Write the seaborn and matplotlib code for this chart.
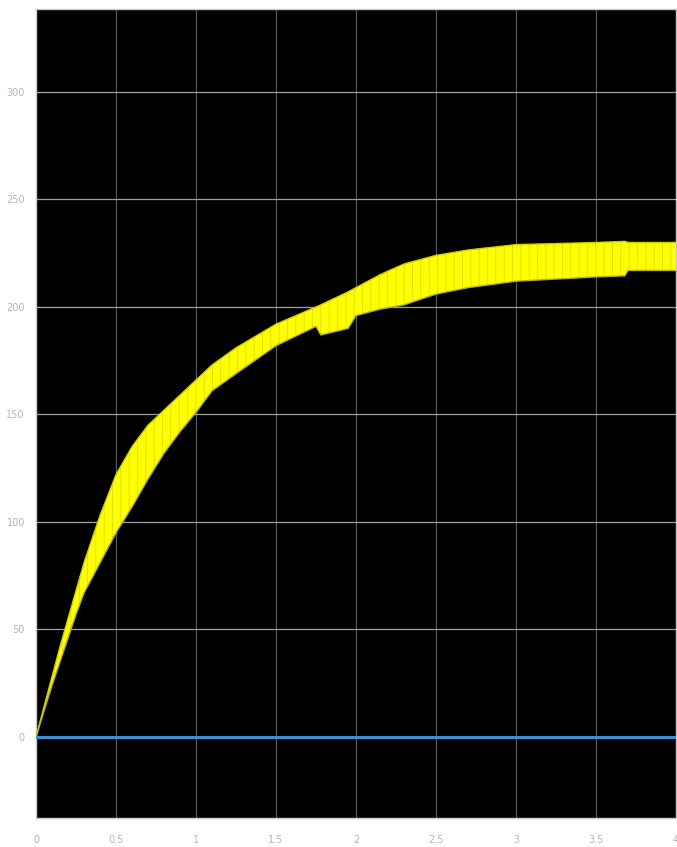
import matplotlib
matplotlib.use("Agg")
import matplotlib.pyplot as plt
import numpy as np
import pandas as pd
import seaborn as sns

# Time samples (s) and the upper / lower envelope of the oscillating signal
time_s = [0, 0.05, 0.1, 0.15, 0.2, 0.25, 0.3, 0.4, 0.5, 0.6, 0.7, 0.8, 0.9,
          1.0, 1.1, 1.25, 1.5, 1.75, 1.78, 1.95, 2.0, 2.15, 2.3, 2.5, 2.7,
          3.0, 3.25, 3.5, 3.68, 3.7, 4.0]
upper = [0, 14, 28, 42, 55, 68, 81, 103, 122, 135, 145, 152, 159,
         166, 173, 181, 192, 200, 201, 207, 209, 215, 220, 224, 226.5,
         229, 229.5, 230, 230.5, 230, 230]
lower = [0, 12, 24, 35, 46, 57, 67, 81, 95, 107, 120, 132, 142,
         151, 161, 169, 182, 191, 187, 190, 196, 199, 201, 206, 209,
         212, 213, 214, 214.5, 217, 217]

# Second trace, flat at zero over the whole run
ref_time = [0, 4]
ref_value = [0, 0]

x_ticks = [0, 0.5, 1, 1.5, 2, 2.5, 3, 3.5, 4]
x_labels = ["0", "0.5", "1", "1.5", "2", "2.5", "3", "3.5", "4"]
y_ticks = [0, 50, 100, 150, 200, 250, 300]
y_labels = ["0", "50", "100", "150", "200", "250", "300"]

df = pd.DataFrame({"t": time_s, "upper": upper, "lower": lower})
ref = pd.DataFrame({"t": ref_time, "v": ref_value})

sns.set_theme(style="dark")
plt.rcParams["hatch.linewidth"] = 0.5

fig = plt.figure(figsize=(6.77, 8.47), dpi=100, facecolor="white")
ax = fig.add_axes([36 / 677, 29 / 847, 640 / 677, 809 / 847])
ax.set_facecolor("black")

# grid
for xv in x_ticks:
    ax.axvline(xv, color="#5c5c5c", lw=0.8, zorder=1)
for yv in y_ticks:
    ax.axhline(yv, color="#a0a0a0", lw=0.9, zorder=1)

# oscillating band
ax.fill_between(df["t"], df["lower"], df["upper"], facecolor="#ffff00",
                edgecolor="#d6d600", hatch="||", linewidth=0, zorder=2)
sns.lineplot(data=df, x="t", y="upper", ax=ax, color="#d0d000", lw=1.0,
             zorder=3)
sns.lineplot(data=df, x="t", y="lower", ax=ax, color="#b8b800", lw=1.0,
             zorder=3)

# zero trace
sns.lineplot(data=ref, x="t", y="v", ax=ax, color="#3d8fd6", lw=2.2,
             zorder=4)

ax.set_xlim(0, 4)
ax.set_ylim(-37.7, 338.6)
ax.set_xticks(x_ticks)
ax.set_xticklabels(x_labels)
ax.set_yticks(y_ticks)
ax.set_yticklabels(y_labels)
ax.set_xlabel("")
ax.set_ylabel("")
ax.grid(False)

for lab in ax.get_xticklabels() + ax.get_yticklabels():
    lab.set_family(["Liberation Sans Narrow", "DejaVu Sans"])
    lab.set_fontsize(7)
    lab.set_color("#b4b4b4")
ax.tick_params(axis="both", length=2, width=0.8, color="#c0c0c0", pad=6)
ax.tick_params(axis="x", pad=10)

for side in ["left", "top", "bottom", "right"]:
    ax.spines[side].set_visible(True)
    ax.spines[side].set_color("#c8c8c8")
    ax.spines[side].set_linewidth(1.0)

fig.savefig("out.png", dpi=100, facecolor="white")
